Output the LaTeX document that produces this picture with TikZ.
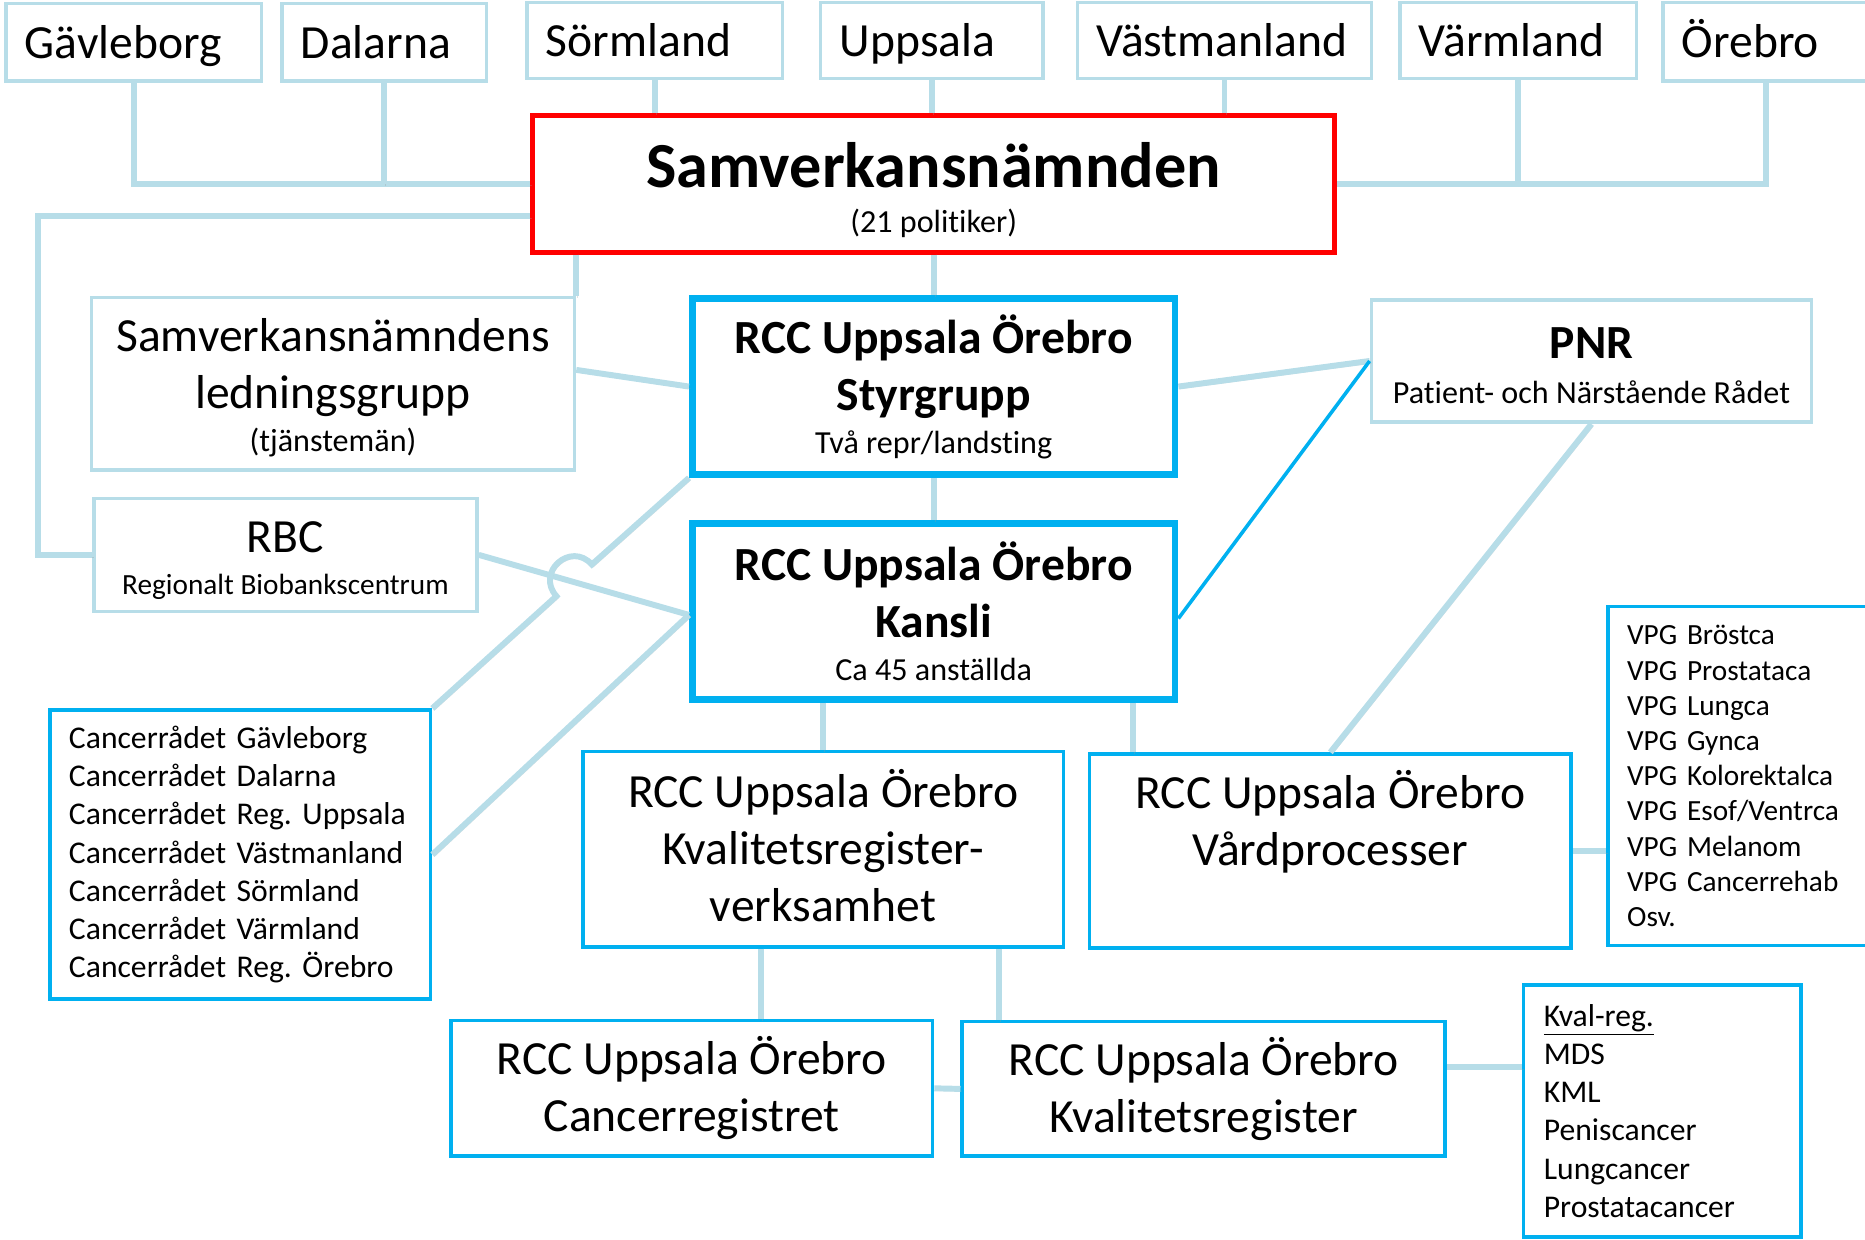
\documentclass[tikz,border=0pt]{standalone}
\usepackage{fontspec}
\setmainfont{Carlito}[Ligatures=CommonOff]
\usetikzlibrary{calc}
\definecolor{paleline}{RGB}{183,221,232}
\definecolor{rccblue}{RGB}{0,176,240}
\newcommand\boxfont{\fontsize{20}{24}\selectfont}
\newcommand\notefont{\fontsize{13.5}{16.1}\selectfont}
\newcommand\listfont{\fontsize{13.3}{16.1}\selectfont\frenchspacing}
\newcommand\vpgfont{\fontsize{12.3}{14.8}\selectfont}
\tikzset{
  pale/.style={draw=paleline,line width=1.5pt,fill=white,inner sep=0pt,align=center,font=\boxfont},
  county/.style={pale,inner xsep=8pt,align=left,text height=14pt,text depth=0.5pt},
  rcc/.style={draw=rccblue,line width=2.75pt,fill=white,inner sep=0pt,align=center,font=\boxfont\bfseries},
  rccthin/.style={draw=rccblue,line width=1.5pt,fill=white,inner sep=0pt,align=center,font=\boxfont},
  listbox/.style={rccthin,inner xsep=8pt,align=left,font=\listfont},
  link/.style={draw=paleline,line width=2.5pt,preaction={draw=black!40,opacity=0.3,transform canvas={shift={(0.7pt,-0.9pt)}}}},
}
\begin{document}
\begin{tikzpicture}[x=0.5pt,y=-0.5pt]
\useasboundingbox (0,0) rectangle (1568,1042);
\node[county,text width=91.5pt,minimum height=32.5pt](gav) at (112.5,35.5){Gävleborg};
\node[county,text width=70pt,minimum height=32.5pt](dal) at (323,35.5){Dalarna};
\node[county,text width=91.5pt,minimum height=32pt](sor) at (550.5,34){Sörmland};
\node[county,text width=77.5pt,minimum height=32pt](upp) at (783.5,34){Uppsala};
\node[county,text width=107.5pt,minimum height=32pt](vast) at (1029.5,34){Västmanland};
\node[county,text width=83.5pt,minimum height=32pt](varm) at (1276.5,34){Värmland};
\node[county,text width=71pt,minimum height=33pt](ore) at (1485,35){Örebro};

\node[pale,draw=red,line width=2pt,minimum width=337pt,minimum height=57.5pt,font=\fontsize{27}{32}\selectfont\bfseries](samv) at (785,154.5)
  {\rule{0pt}{24pt}Samverkansnämnden\\[-13.25pt]{\notefont\mdseries (21 politiker)}};
\node[pale,minimum width=203pt,minimum height=72.5pt](led) at (280,322.5)
  {\rule{0pt}{17pt}Samverkansnämndens\\ledningsgrupp\\[-6pt]{\notefont (tjänstemän)}};
\node[rcc,minimum width=203pt,minimum height=74pt](styr) at (785,325)
  {RCC Uppsala Örebro\\Styrgrupp\\[-6pt]{\notefont\mdseries Två repr/landsting}};
\node[rcc,minimum width=203pt,minimum height=74pt](kansli) at (785,514)
  {RCC Uppsala Örebro\\Kansli\\[-5.75pt]{\notefont\mdseries Ca 45 anställda}};
\node[pale,minimum width=185pt,minimum height=51.5pt](pnr) at (1338,303.5)
  {\rule{0pt}{17pt}\textbf{PNR}\\[-5pt]{\notefont Patient- och Närstående Rådet}};
\node[pale,minimum width=161pt,minimum height=47.5pt](rbc) at (240,466.5)
  {\rule{0pt}{18pt}RBC\\[-6.5pt]{\vpgfont Regionalt Biobankscentrum}};
\node[listbox,text width=144pt,minimum height=121.5pt](canc) at (202,718.5)
  {Cancerrådet Gävleborg\\Cancerrådet Dalarna\\Cancerrådet Reg. Uppsala\\Cancerrådet Västmanland\\Cancerrådet Sörmland\\Cancerrådet Värmland\\Cancerrådet Reg. Örebro};
\node[rccthin,minimum width=202pt,minimum height=82pt](krv) at (692,714)
  {RCC Uppsala Örebro\\Kvalitetsregister-\\verksamhet\rule[-3.5pt]{0pt}{0pt}};
\node[rccthin,minimum width=202.5pt,minimum height=81.5pt](vard) at (1118.5,715.5)
  {RCC Uppsala Örebro\\Vårdprocesser\\\rule[-4pt]{0pt}{0pt}};
\node[listbox,text width=98pt,minimum height=142.5pt,font=\vpgfont](vpg) at (1466,652.5)
  {VPG Bröstca\\VPG Prostataca\\VPG Lungca\\VPG Gynca\\VPG Kolorektalca\\VPG Esof/Ventrca\\VPG Melanom\\VPG Cancerrehab\\Osv.};
\node[rccthin,minimum width=202.5pt,minimum height=57pt](creg) at (581.5,915)
  {RCC Uppsala Örebro\\Cancerregistret};
\node[rccthin,minimum width=203pt,minimum height=56.5pt](kreg) at (1012,915.5)
  {RCC Uppsala Örebro\\Kvalitetsregister};
\node[listbox,text width=99.5pt,inner xsep=8.5pt,minimum height=106pt](kval) at (1397.5,934)
  {\underline{Kval-reg.}\\MDS\\KML\\Peniscancer\\Lungcancer\\Prostatacancer};

\draw[link] (gav.south) |- (samv.west);
\draw[link] (dal.south) -- (dal.south |- samv.west);
\draw[link] (sor.south) -- (sor.south |- samv.north);
\draw[link] (upp.south) -- (upp.south |- samv.north);
\draw[link] (vast.south) -- (vast.south |- samv.north);
\draw[link] (varm.south) -- (varm.south |- samv.east);
\draw[link] (ore.south) |- (samv.east);
\draw[link] ($(samv.west)+(0,27.5)$) -- ++(-414,0) |- (rbc.west);
\draw[link] (samv.south -| led.north east) -- (led.north east);
\draw[link] (samv.south) -- (styr.north);
\draw[link] ($(led.east)+(0,-11.5)$) -- (styr.west);
\draw[link] (styr.south) -- (kansli.north);
\draw[link] (styr.east) -- (pnr.west);
\draw[rccblue,line width=1.5pt] (pnr.west) -- ($(kansli.east)+(0,6)$);
\draw[link] (rbc.east) -- ($(kansli.west)+(0,3)$);
\coordinate (hopin) at (497.6,474.6);
\coordinate (hopout) at (467.8,501.2);
\draw[link] (styr.south west) -- (hopin) .. controls (479.8,454.7) and (450,481.3) .. (hopout) -- (canc.north east);
\draw[link] ($(kansli.west)+(0,3)$) -- (canc.east);
\draw[link] (kansli.south -| krv.north) -- (krv.north);
\draw[link] ($(kansli.south east)+(-38,0)$) coordinate (kv) -- (kv |- vard.north);
\draw[link] (pnr.south) -- (vard.north);
\draw[link] (vard.east) -- (vard.east -| vpg.west);
\draw[link] ($(krv.south)+(-52,0)$) coordinate (kc) -- (kc |- creg.north);
\draw[link] ($(krv.south)+(148,0)$) coordinate (kk) -- (kk |- kreg.north);
\draw[link] (creg.east) -- (kreg.west);
\draw[link] ($(kreg.east)+(0,-18.5)$) coordinate (kq) -- (kq -| kval.west);
\end{tikzpicture}
\end{document}
